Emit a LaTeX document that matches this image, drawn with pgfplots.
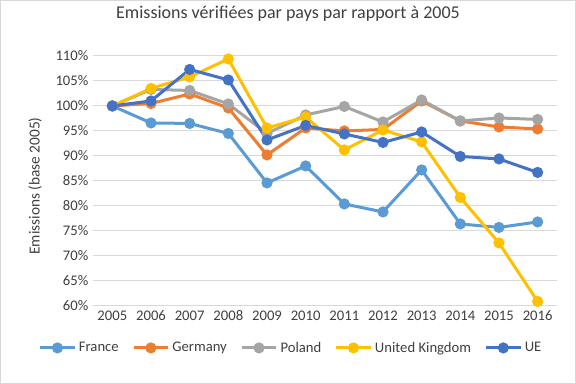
\documentclass[border=0pt]{standalone}
\usepackage{fontspec}
\setmainfont{Carlito}
\usepackage{pgfplots}
\pgfplotsset{compat=1.18}
\definecolor{cFr}{HTML}{5B9BD5}
\definecolor{cDe}{HTML}{ED7D31}
\definecolor{cPl}{HTML}{A5A5A5}
\definecolor{cUk}{HTML}{FFC000}
\definecolor{cUe}{HTML}{4472C4}
\definecolor{gridc}{HTML}{D9D9D9}
\definecolor{txt}{HTML}{404040}
\begin{document}
\begin{tikzpicture}
\draw[draw=gridc, line width=0.75pt, fill=white] (-69.4pt,-58.1pt) rectangle (361.9pt,229.1pt);
\begin{axis}[
  at={(0pt,0pt)}, anchor=south west,
  width=348pt, height=187.5pt, scale only axis,
  xmin=-0.5, xmax=11.5, ymin=60, ymax=110,
  xtick={0,...,11},
  xticklabels={2005,2006,2007,2008,2009,2010,2011,2012,2013,2014,2015,2016},
  ytick={60,65,...,110},
  yticklabel={\pgfmathprintnumber{\tick}\%},
  /pgf/number format/assume math mode=true,
  tick label style={font=\fontsize{11}{13}\selectfont, text=txt},
  major tick length=0pt,
  axis line style={draw=none},
  ymajorgrids, grid style={draw=gridc, line width=0.75pt},
  ylabel={Emissions (base 2005)},
  every axis y label/.style={at={(-43.5pt,90pt)}, rotate=90, anchor=center,
    font=\fontsize{11.5}{13}\selectfont, text=txt},
  title={Emissions vérifiées par pays par rapport à 2005},
  title style={font=\fontsize{13.5}{16}\selectfont, text=txt, at={(146.25pt,213pt)}, anchor=center},
  legend columns=5,
  legend style={draw=none, fill=none, at={(147.75pt,-31.5pt)}, anchor=center,
    font=\fontsize{11}{13}\selectfont, text=txt,
    nodes={inner xsep=0pt},
    /tikz/every odd column/.append style={column sep=2pt},
    /tikz/every even column/.append style={column sep=10pt}},
  legend image code/.code={
    \draw[#1, mark=none] (0pt,0pt) -- (26pt,0pt);
    \fill[#1] (13pt,0pt) circle (3pt);
  },
  every axis plot/.append style={line width=2.25pt, mark=*, mark size=3pt},
  clip=false,
]
\addplot[cFr, mark options={fill=cFr, draw=cFr}] coordinates {(0,100)(1,96.6)(2,96.5)(3,94.5)(4,84.6)(5,88.0)(6,80.4)(7,78.8)(8,87.2)(9,76.4)(10,75.7)(11,76.8)};
\addlegendentry{France}
\addplot[cDe, mark options={fill=cDe, draw=cDe}] coordinates {(0,100)(1,100.5)(2,102.4)(3,99.6)(4,90.2)(5,95.6)(6,95.0)(7,95.3)(8,101.0)(9,97.0)(10,95.8)(11,95.4)};
\addlegendentry{Germany}
\addplot[cPl, mark options={fill=cPl, draw=cPl}] coordinates {(0,100)(1,103.3)(2,103.1)(3,100.4)(4,94.5)(5,98.2)(6,99.9)(7,96.8)(8,101.2)(9,97.0)(10,97.6)(11,97.3)};
\addlegendentry{Poland}
\addplot[cUk, mark options={fill=cUk, draw=cUk}] coordinates {(0,100)(1,103.5)(2,105.8)(3,109.4)(4,95.6)(5,97.8)(6,91.2)(7,95.2)(8,92.8)(9,81.7)(10,72.6)(11,60.9)};
\addlegendentry{United Kingdom}
\addplot[cUe, mark options={fill=cUe, draw=cUe}] coordinates {(0,100)(1,101.0)(2,107.3)(3,105.2)(4,93.2)(5,96.1)(6,94.4)(7,92.7)(8,94.8)(9,89.9)(10,89.4)(11,86.7)};
\addlegendentry{UE}
\end{axis}
\end{tikzpicture}
\end{document}
